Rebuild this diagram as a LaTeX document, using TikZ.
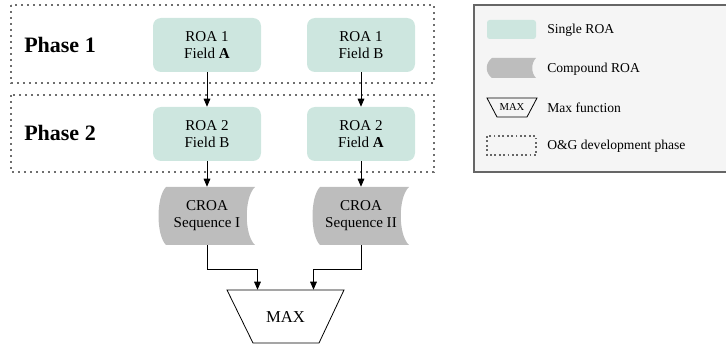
\documentclass[tikz,border=0pt]{standalone}
\usepackage{fontspec}
\setmainfont{Liberation Serif}[BoldFont={Liberation Serif Bold}]
\usetikzlibrary{arrows.meta}

\definecolor{roagreen}{RGB}{205,230,223}
\definecolor{croagray}{RGB}{189,189,189}
\definecolor{legendfill}{RGB}{245,245,245}
\definecolor{legendline}{RGB}{102,102,102}
\definecolor{phaseline}{RGB}{110,110,110}

\tikzset{
  roa/.style={rectangle, rounded corners=6, fill=roagreen, draw=none, minimum width=81pt, minimum height=40.5pt, align=center, inner sep=0pt, font=\fontsize{11.3}{12.8}\selectfont},
  croabox/.style={rectangle, draw=none, minimum width=71pt, minimum height=43.5pt, align=center, inner sep=0pt, font=\fontsize{11.3}{12.8}\selectfont},
  croa/.style={fill=croagray},
  phasebox/.style={draw=phaseline, line width=1.6pt, dash pattern=on 1.6pt off 2.9pt},
  phaselabel/.style={font=\fontsize{16.5}{20}\selectfont\bfseries},
  flow/.style={-{Triangle[length=6pt,width=5pt]}, line width=0.6pt},
  legendtext/.style={anchor=west, inner sep=0pt, font=\fontsize{10.2}{12}\selectfont}
}

% compound ROA outline around a centre point
\newcommand{\croashape}[2]{%
  \fill[croa, shift={(#1,#2)}] (-41,-29) -- (48,-29) .. controls (37,-19) and (37,19) .. (48,29) -- (-41,29) .. controls (-51,19) and (-51,-19) .. cycle;}

\begin{document}
\begin{tikzpicture}[x=0.75pt,y=0.75pt,yscale=-1,xscale=1]
\useasboundingbox (0,0) rectangle (726,346);

%Phase boxes
\draw[phasebox] (11,5) rectangle (434,83);
\draw[phasebox] (11,95) rectangle (434,172);
\node[phaselabel] (ph1) at (60,45) {Phase 1};
\node[phaselabel] (ph2) at (60,133) {Phase 2};

%Single ROA nodes
\node[roa] (roa1a) at (207,45) {ROA 1\\Field \textbf{A}};
\node[roa] (roa1b) at (361,45) {ROA 1\\Field B};
\node[roa] (roa2b) at (207,134) {ROA 2\\Field B};
\node[roa] (roa2a) at (361,134) {ROA 2\\Field \textbf{A}};

%Compound ROA nodes
\croashape{207}{216}
\croashape{361}{216}
\node[croabox] (croa1) at (207,216) {CROA\\Sequence I};
\node[croabox] (croa2) at (361,216) {CROA\\Sequence II};

%Max function
\draw[line width=0.6pt] (227,290) -- (344,290) -- (319,343) -- (253,343) -- cycle;
\node[rectangle, minimum width=87pt, minimum height=39.75pt, inner sep=0pt, font=\fontsize{12.5}{14}\selectfont] (maxfn) at (285.5,316.5) {MAX};

%Connectors
\draw[flow] (roa1a) -- (roa2b);
\draw[flow] (roa1b) -- (roa2a);
\draw[flow] (roa2b) -- (croa1);
\draw[flow] (roa2a) -- (croa2);
\draw[flow] (croa1.south) -- ++(0,24) -| ([xshift=-21pt]maxfn.north);
\draw[flow] (croa2.south) -- ++(0,24) -| ([xshift=21pt]maxfn.north);

%Legend
\draw[draw=legendline, fill=legendfill, line width=1.5pt] (474,5) rectangle (730,172);
\fill[roagreen, rounded corners=2] (487,20) rectangle (536,39);
\fill[croa] (492,58) -- (536,58) .. controls (531,63) and (531,73) .. (536,78) -- (492,78) .. controls (485,73) and (485,63) .. cycle;
\draw[line width=0.6pt] (487,98) -- (537,98) -- (527,117) -- (497,117) -- cycle;
\node[inner sep=0pt, font=\fontsize{8}{9}\selectfont] (lgmax) at (512,106.5) {MAX};
\draw[legendline, line width=1.3pt, dash pattern=on 1.3pt off 2pt] (487,136) rectangle (536,155);
\node[legendtext] (lg1) at (547,30) {Single ROA};
\node[legendtext] (lg2) at (547,69) {Compound ROA};
\node[legendtext] (lg3) at (547,108) {Max function};
\node[legendtext] (lg4) at (547,146) {O\&G development phase};

\end{tikzpicture}
\end{document}
